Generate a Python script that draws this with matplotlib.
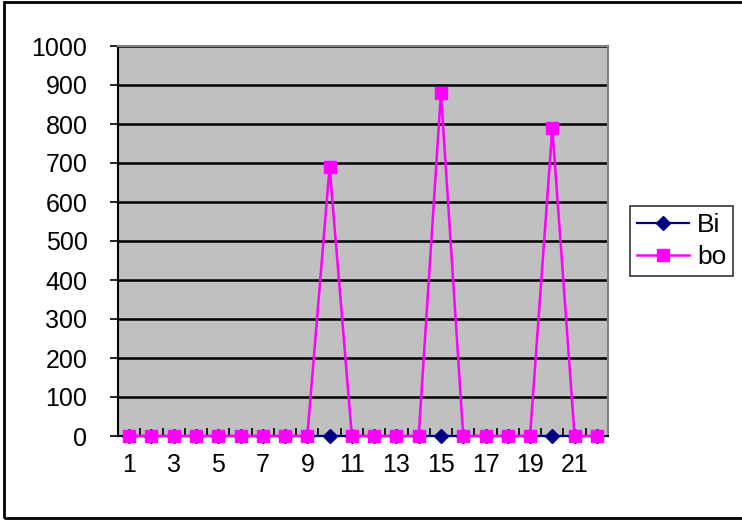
import matplotlib

matplotlib.use('Agg')
import matplotlib.pyplot as plt
from matplotlib.patches import Rectangle
import numpy as np

categories = list(range(1, 23))
bi = [0] * 22
bo = [0, 0, 0, 0, 0, 0, 0, 0, 0, 690, 0, 0, 0, 0, 880, 0, 0, 0, 0, 790, 0, 0]
tick_labels = [str(c) if c % 2 == 1 else '' for c in categories]
yticks = list(range(0, 1001, 100))

plt.rcParams['font.family'] = ['Liberation Sans', 'DejaVu Sans']

fig = plt.figure(figsize=(7.42, 5.21), dpi=100)
ax = fig.add_axes([118 / 742, 85 / 521, 490 / 742, 390 / 521])
ax.set_facecolor('#C0C0C0')

x = np.arange(len(categories)) + 0.5
ax.plot(x, bi, color='#000080', marker='D', markersize=7.5, lw=1.6,
        label='Bi', zorder=3, clip_on=False)
ax.plot(x, bo, color='#FF00FF', marker='s', markersize=9, lw=1.8,
        label='bo', zorder=4, clip_on=False)

ax.set_xlim(0, len(categories))
ax.set_ylim(0, 1000)
ax.set_yticks(yticks)
ax.yaxis.grid(True, color='black', lw=1.8)
ax.set_axisbelow(True)

# category ticks sit between points, pointing into the plot
ax.set_xticks(np.arange(len(categories) + 1), minor=False)
ax.set_xticklabels([])
ax.set_xticks(x, minor=True)
ax.set_xticklabels(tick_labels, minor=True)
ax.tick_params(axis='x', which='major', direction='in', length=6, width=1.2)
ax.tick_params(axis='x', which='minor', length=0, pad=12, labelsize=18)
ax.tick_params(axis='y', direction='out', length=6, width=1.2, pad=16,
               labelsize=18)

for side in ('top', 'right'):
    ax.spines[side].set_color('#808080')
    ax.spines[side].set_linewidth(1.5)
for side in ('left', 'bottom'):
    ax.spines[side].set_color('black')
    ax.spines[side].set_linewidth(1.5)

leg = ax.legend(loc='center left', bbox_to_anchor=(630 / 742, 280 / 521),
                bbox_transform=fig.transFigure, fontsize=19, frameon=True,
                fancybox=False, edgecolor='black', borderpad=0.25,
                handlelength=2.0, handletextpad=0.3, labelspacing=0.3,
                borderaxespad=0)
leg.get_frame().set_linewidth(1.2)

fig.patches.append(Rectangle((4 / 742, 3 / 521), 740 / 742, 516 / 521,
                             transform=fig.transFigure, fill=False,
                             edgecolor='black', lw=2))

fig.savefig('out.png', dpi=100)
